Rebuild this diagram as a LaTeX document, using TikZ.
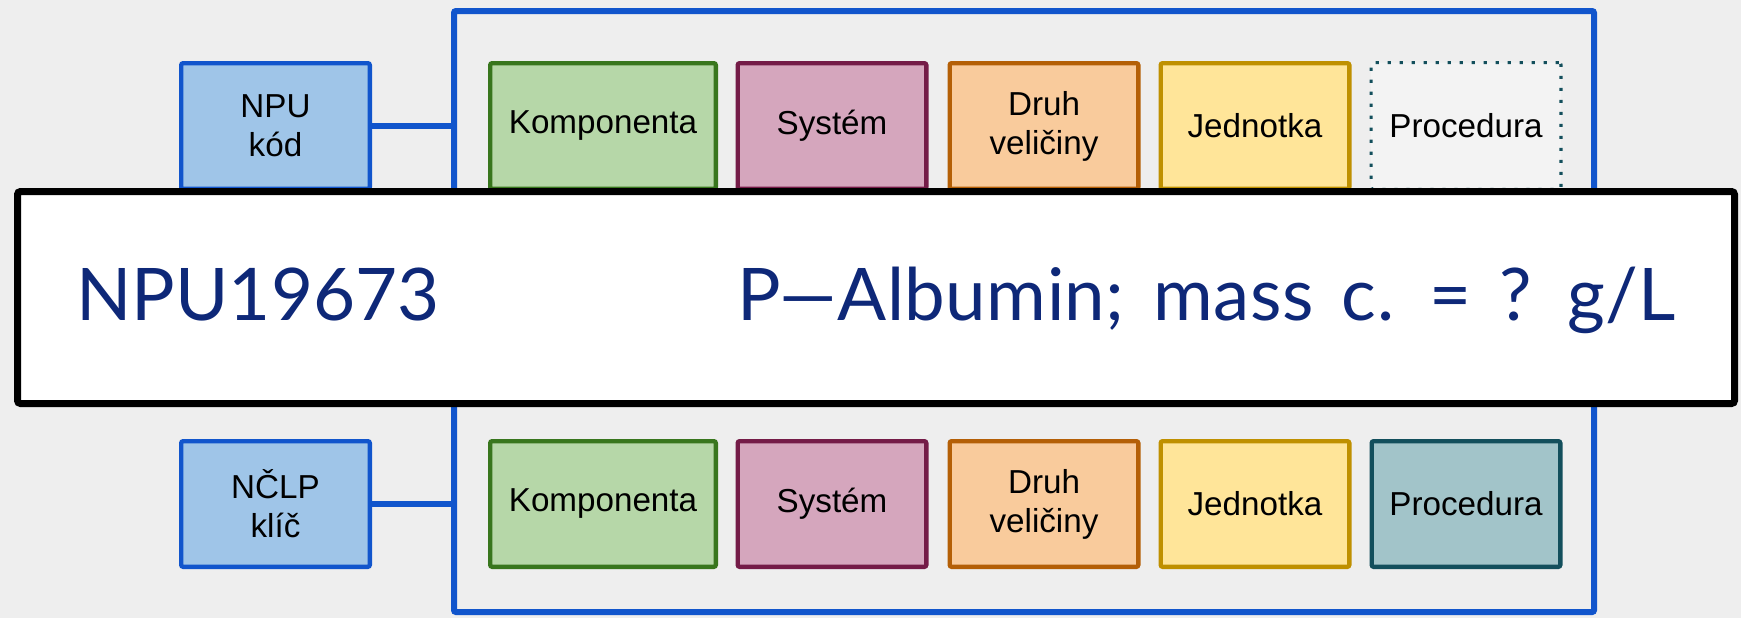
\documentclass[tikz,border=0pt]{standalone}
\usepackage{fontspec}
\setmainfont{Liberation Sans}
\newfontfamily\bigfont{Lato}
\newfontfamily\namefont[WordSpace=1.5,LetterSpace=0.6]{Lato}
\definecolor{bg}{HTML}{EEEEEE}
\definecolor{gblue}{HTML}{1155CC}
\definecolor{lblue}{HTML}{9FC5E8}
\definecolor{kfill}{HTML}{B6D7A8}\definecolor{kdraw}{HTML}{38761D}
\definecolor{sfill}{HTML}{D5A6BD}\definecolor{sdraw}{HTML}{741B47}
\definecolor{dfill}{HTML}{F9CB9C}\definecolor{ddraw}{HTML}{B45F06}
\definecolor{jfill}{HTML}{FFE599}\definecolor{jdraw}{HTML}{BF9000}
\definecolor{pfill}{HTML}{A2C4C9}\definecolor{pdraw}{HTML}{134F5C}
\definecolor{pdot}{HTML}{F3F3F3}
\definecolor{navy}{HTML}{0E2878}
\begin{document}
\begin{tikzpicture}[x=0.5pt,y=-0.5pt,
  box/.style={rectangle, rounded corners=1pt, line width=2.2pt, minimum height=62.8pt,
    minimum width=94.3pt, inner sep=0pt, align=center,
    font=\fontsize{16.6}{19.5}\selectfont},
  codebox/.style={box, draw=gblue, fill=lblue},
  kbox/.style={box, draw=kdraw, fill=kfill, minimum width=112.8pt},
  sbox/.style={box, draw=sdraw, fill=sfill},
  dbox/.style={box, draw=ddraw, fill=dfill},
  jbox/.style={box, draw=jdraw, fill=jfill},
  pbox/.style={box, draw=pdraw, fill=pfill},
  pdotbox/.style={box, draw=pdraw, fill=pdot, line width=1.6pt, minimum width=94.9pt, minimum height=63.4pt, dash pattern=on 1.6pt off 4.4pt},
  blueline/.style={draw=gblue, line width=3pt},
  bigtext/.style={inner sep=0pt, text=navy, font=\bigfont\fontsize{36.3}{40}\selectfont},
  nametext/.style={inner sep=0pt, text=navy, font=\namefont\fontsize{36.3}{40}\selectfont}
]
\useasboundingbox (0,0) rectangle (1741,618);
\fill[bg] (0,0) rectangle (1741,618);
\node[draw=gblue, line width=3pt, fill=bg, rounded corners=1pt, minimum width=570pt, minimum height=300.5pt, inner sep=0pt] (outer) at (1024,311.5) {};
% top row
\node[codebox] (npu) at (275.5,126) {NPU\\kód};
\node[kbox] (k1) at (603,126) {Komponenta};
\node[sbox] (s1) at (832,126) {Systém};
\node[dbox] (d1) at (1044,126) {Druh\\veličiny};
\node[jbox] (j1) at (1255,126) {Jednotka};
\node[pdotbox] (p1) at (1466,126) {Procedura};
% bottom row
\node[codebox] (nclp) at (275.5,504) {NČLP\\klíč};
\node[kbox] (k2) at (603,504) {Komponenta};
\node[sbox] (s2) at (832,504) {Systém};
\node[dbox] (d2) at (1044,504) {Druh\\veličiny};
\node[jbox] (j2) at (1255,504) {Jednotka};
\node[pbox] (p2) at (1466,504) {Procedura};
% connectors
\draw[blueline] (npu.east) -- (npu.east -| outer.west);
\draw[blueline] (nclp.east) -- (nclp.east -| outer.west);
% overlay
\node[draw=black, fill=white, line width=3.5pt, rounded corners=1.5pt, minimum width=858.5pt, minimum height=106pt, inner sep=0pt] (key) at (876,297.5) {};
\node[bigtext, anchor=base west] (code) at (76,320) {NPU19673};
\node[nametext, anchor=base east] (name) at (1676,320) {P—Albumin; mass c. = ? g/L};
\end{tikzpicture}
\end{document}
